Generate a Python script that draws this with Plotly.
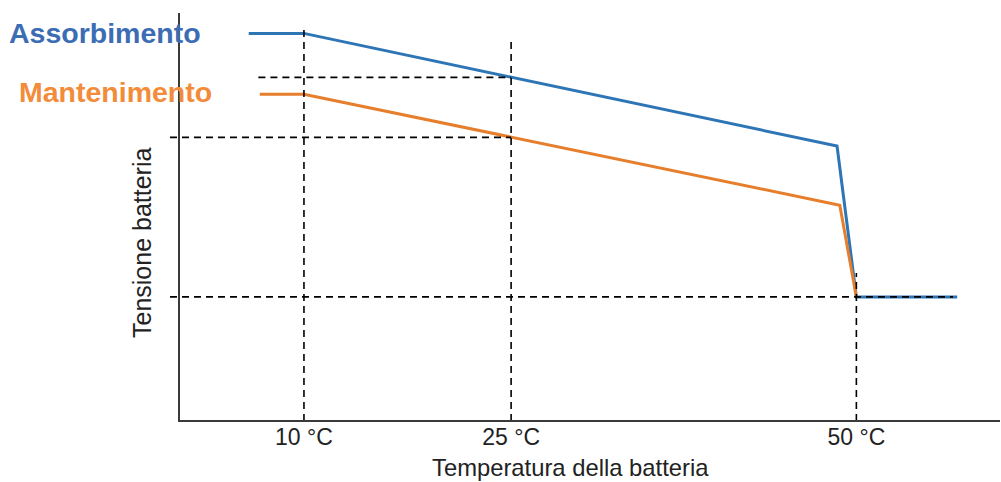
import plotly.graph_objects as go

# ---------------- data ----------------
# x: battery temperature (°C); y: battery voltage (arbitrary units, axis unlabelled)
absorb_temp = [6.0, 10.0, 48.6, 50.0, 57.3]
absorb_volt = [95.0, 95.0, 67.4, 30.4, 30.4]

float_temp = [6.8, 10.0, 48.8, 50.0]
float_volt = [80.1, 80.1, 52.9, 30.4]

tick_temps = [10, 25, 50]
tick_labels = ["10 °C", "25 °C", "50 °C"]

# dashed guide lines
vguide_temp = [10, 25, 50]
vguide_top = [96.0, 92.9, 36.3]

hguide_volt = [84.2, 69.5, 30.4]
hguide_start = [6.7, None, None]   # None -> starts at the left edge
hguide_end = [25, 25, 57.0]

series_names = ["Assorbimento", "Mantenimento"]

# ---------------- styling ----------------
X_RANGE = [0.3, 60.4]
Y_RANGE = [0, 100]
FONT = "Liberation Sans, Arial, sans-serif"
BLUE = "#2E75B6"
ORANGE = "#E67E2B"
BLUE_TXT = "#3C6DB4"
ORANGE_TXT = "#F28C3A"
AXIS_COL = "#3a3a3a"
DASH = "7px,5px"

fig = go.Figure()

fig.add_trace(go.Scatter(x=absorb_temp, y=absorb_volt, mode="lines",
                         line=dict(color=BLUE, width=3), name=series_names[0],
                         showlegend=False))
fig.add_trace(go.Scatter(x=float_temp, y=float_volt, mode="lines",
                         line=dict(color=ORANGE, width=3), name=series_names[1],
                         showlegend=False))

# vertical dashed guides
for t, top in zip(vguide_temp, vguide_top):
    fig.add_trace(go.Scatter(x=[t, t], y=[Y_RANGE[0], top], mode="lines",
                             line=dict(color="black", width=1.6, dash=DASH),
                             showlegend=False, hoverinfo="skip"))
# horizontal dashed guides
for v, s, e in zip(hguide_volt, hguide_start, hguide_end):
    s = X_RANGE[0] if s is None else s
    fig.add_trace(go.Scatter(x=[s, e], y=[v, v], mode="lines",
                             line=dict(color="black", width=1.8, dash=DASH),
                             showlegend=False, hoverinfo="skip"))

W, H = 1001, 482
ML, MR, MT, MB = 170, 1, 13, 61
PW = W - ML - MR
PH = H - MT - MB
axis_pos = 9 / PW

fig.update_layout(
    width=W, height=H, autosize=False,
    margin=dict(l=ML, r=MR, t=MT, b=MB, pad=0),
    paper_bgcolor="white", plot_bgcolor="white",
    font=dict(family=FONT, color="#222222"),
    showlegend=False,
    xaxis=dict(range=X_RANGE, showgrid=False, zeroline=False, showline=False,
               tickmode="array", tickvals=tick_temps, ticktext=tick_labels,
               ticks="", tickfont=dict(size=23, color="#222222", family=FONT),
               ticklabelstandoff=0, fixedrange=True),
    yaxis=dict(range=Y_RANGE, showgrid=False, zeroline=False, showline=True,
               linecolor=AXIS_COL, linewidth=2, anchor="free", position=axis_pos,
               showticklabels=False, ticks="", fixedrange=True),
    shapes=[dict(type="line", xref="paper", yref="paper", x0=axis_pos - 0.0012, x1=1,
                 y0=0, y1=0, line=dict(color=AXIS_COL, width=2))],
    annotations=[
        dict(text="<b>" + series_names[0] + "</b>", xref="paper", yref="y",
             x=(7 - ML) / PW, y=absorb_volt[0], xanchor="left", yanchor="middle",
             showarrow=False, font=dict(size=28.5, color=BLUE_TXT, family=FONT)),
        dict(text="<b>" + series_names[1] + "</b>", xref="paper", yref="y",
             x=(17 - ML) / PW, y=float_volt[0] + 0.5, xanchor="left", yanchor="middle",
             showarrow=False, font=dict(size=28.5, color=ORANGE_TXT, family=FONT)),
        dict(text="Temperatura della batteria", xref="paper", yref="paper",
             x=(570 - ML) / PW, y=(421 - 467) / PH, xanchor="center", yanchor="middle",
             showarrow=False, font=dict(size=23.8, color="#222222", family=FONT)),
        dict(text="Tensione batteria", xref="paper", yref="paper", textangle=-90,
             x=(142 - ML) / PW, y=(421 - 243) / PH, xanchor="center", yanchor="middle",
             showarrow=False, font=dict(size=25, color="#222222", family=FONT)),
    ],
)

fig.write_html("out.html")
